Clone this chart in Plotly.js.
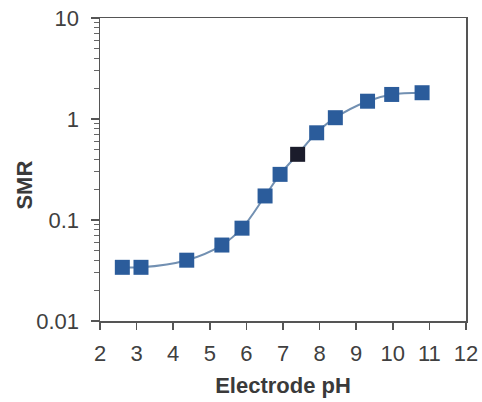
<!DOCTYPE html>
<html>
<head>
<meta charset="utf-8">
<script src="https://cdn.plot.ly/plotly-3.0.1.min.js"></script>
<style>html,body{margin:0;padding:0;background:#fff;}#chart{width:482px;height:402px;}</style>
</head>
<body>
<div id="chart"></div>
<script>
var electrodePH = [2.61, 3.12, 4.37, 5.33, 5.88, 6.51, 6.92, 7.40, 7.92, 8.43, 9.31, 9.97, 10.80];
var smrValues  = [0.034, 0.034, 0.040, 0.0565, 0.083, 0.173, 0.283, 0.447, 0.73, 1.03, 1.50, 1.75, 1.82];
var highlightIndex = 7;
var markerColors = electrodePH.map(function(_, i){ return i === highlightIndex ? '#1b1c2b' : '#2b5c9b'; });
var xTickVals = [2,3,4,5,6,7,8,9,10,11,12];
var yTickVals = [0.01, 0.1, 1, 10];
var yTickText = ['0.01', '0.1', '1', '10'];
var xTitle = 'Electrode pH';
var yTitle = 'SMR';

var trace = {
  x: electrodePH,
  y: smrValues,
  type: 'scatter',
  mode: 'lines+markers',
  line: {shape: 'spline', color: '#7290b2', width: 2},
  marker: {symbol: 'square', size: 15, color: markerColors, line: {width: 0}},
  hoverinfo: 'none'
};

var fam = 'Liberation Sans, Arial, sans-serif';
var axisFont = {family: fam, size: 22, color: '#404040'};
var titleFont = {family: fam, size: 22, color: '#3a3a3a', weight: 'bold'};
var layout = {
  width: 482, height: 402,
  margin: {l: 100, r: 16, t: 18, b: 81},
  paper_bgcolor: '#fff', plot_bgcolor: '#fff',
  showlegend: false,
  xaxis: {
    range: [2, 12],
    tickvals: xTickVals,
    ticks: 'outside', ticklen: 7, tickwidth: 1.5, tickcolor: '#555',
    ticklabelstandoff: 5,
    showline: true, linecolor: '#555', linewidth: 1.5, mirror: true,
    showgrid: false, zeroline: false,
    tickfont: axisFont,
    title: {text: xTitle, font: titleFont, standoff: 12}
  },
  yaxis: {
    type: 'log',
    range: [-2, 1],
    tickvals: yTickVals, ticktext: yTickText,
    ticks: 'outside', ticklen: 8, tickwidth: 1.5, tickcolor: '#555',
    ticklabelstandoff: 7,
    minor: {ticks: 'outside', ticklen: 5, tickwidth: 1, tickcolor: '#666', dtick: 'D1', showgrid: false},
    showline: true, linecolor: '#555', linewidth: 1.5, mirror: true,
    showgrid: false, zeroline: false,
    tickfont: axisFont
  },
  annotations: [{
    text: yTitle, textangle: -90, font: titleFont,
    xref: 'paper', yref: 'paper', x: -0.205, y: 0.45,
    xanchor: 'center', yanchor: 'middle', showarrow: false
  }]
};

Plotly.newPlot('chart', [trace], layout, {staticPlot: true, displayModeBar: false});
</script>
</body>
</html>
